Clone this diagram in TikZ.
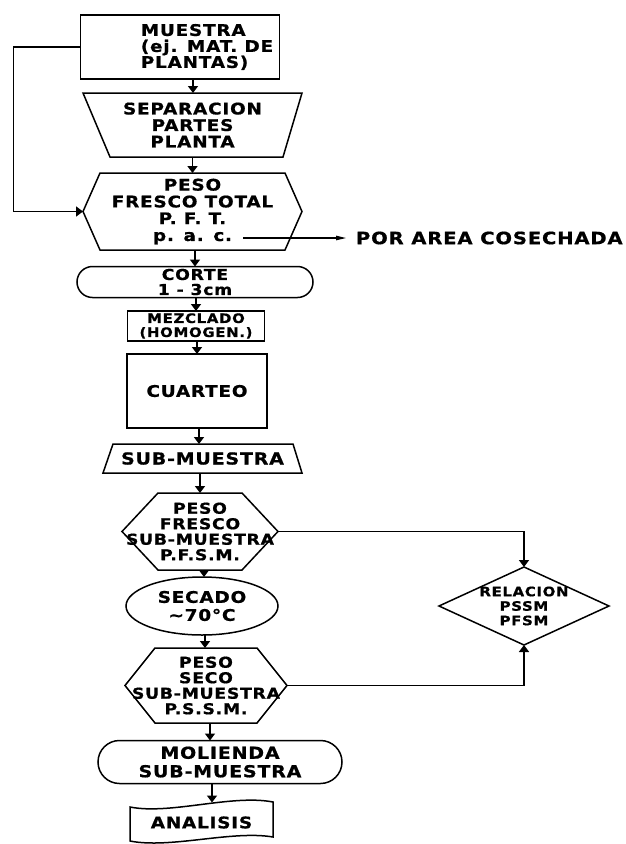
\documentclass[tikz,border=0pt]{standalone}
\usepackage{fontspec}
\setmainfont{DejaVu Sans}[LetterSpace=5,FakeStretch=1.15,BoldFeatures={FakeBold=0.8}]
\usetikzlibrary{arrows.meta,shapes.geometric}
\newcommand\myfs[2]{\fontsize{#1}{#2}\selectfont}
\begin{document}
\begin{tikzpicture}[x=1pt,y=-1pt,
  lw/.style={line width=1.5pt},
  blk/.style={inner sep=0pt, outer sep=0pt, align=center},
  fz/.style 2 args={font=\bfseries\myfs{#1}{#2}},
  arr/.style={lw,-{Triangle[length=7pt,width=10pt]}},
  thinarr/.style={line width=1.1pt,-{Triangle[length=10pt,width=4.5pt]}}]
\useasboundingbox (0,0) rectangle (626,844);
\fill[white] (0,0) rectangle (626,844);

% MUESTRA (text left-aligned, box drawn 27pt to the left of the node)
\node[blk,fz={16}{16},align=left,minimum width=199pt,minimum height=64pt] (muestra) at (207,47)
  {MUESTRA\\(ej. MAT. DE\\PLANTAS)};
\draw[lw] ([xshift=-27pt]muestra.north west) rectangle ([xshift=-27pt]muestra.south east);

% SEPARACION
\node[blk,fz={16}{16.5},minimum width=219pt,minimum height=64pt] (sep) at (192.5,125)
  {SEPARACION\\PARTES\\PLANTA};
\draw[lw] (sep.north west) -- (sep.north east) -- ([xshift=-19pt]sep.south east)
  -- ([xshift=27pt]sep.south west) -- cycle;

% PESO FRESCO TOTAL
\node[blk,fz={16}{16.8},minimum width=219pt,minimum height=77pt] (pft) at (192.5,211.5)
  {PESO\\FRESCO TOTAL\\P. F. T.\\p. a. c.};
\draw[lw] (pft.west) -- ([xshift=17pt]pft.north west) -- ([xshift=-17pt]pft.north east)
  -- (pft.east) -- ([xshift=-17pt]pft.south east) -- ([xshift=17pt]pft.south west) -- cycle;

\coordinate (pacs) at (243,238);
\node[blk,fz={17}{17},anchor=west] (pac) at (356,238) {POR AREA COSECHADA};
\draw[thinarr,shorten >=10pt] (pacs) -- (pac.west);

% CORTE
\node[blk,fz={15}{15},minimum width=236pt,minimum height=31pt] (corte) at (195,282)
  {CORTE\\1 - 3cm};
\draw[lw,rounded corners=15.5pt] (corte.north west) rectangle (corte.south east);

% MEZCLADO
\node[blk,fz={13}{14},minimum width=137pt,minimum height=30pt] (mez) at (196,326)
  {MEZCLADO\\(HOMOGEN.)};
\draw[lw] (mez.north west) rectangle (mez.south east);

% CUARTEO
\node[blk,fz={16}{16},minimum width=140pt,minimum height=74pt] (cuart) at (197,391)
  {CUARTEO};
\draw[lw] (cuart.north west) rectangle (cuart.south east);

% SUB-MUESTRA
\node[blk,fz={16.5}{16.5},minimum width=199pt,minimum height=29pt] (sub) at (202.5,458.5)
  {SUB-MUESTRA};
\draw[lw] ([xshift=10pt]sub.north west) -- ([xshift=-9pt]sub.north east)
  -- (sub.south east) -- (sub.south west) -- cycle;

% PESO FRESCO SUB-MUESTRA
\node[blk,fz={15}{15.5},minimum width=156pt,minimum height=77pt] (pfsm) at (200,531.5)
  {PESO\\FRESCO\\SUB-MUESTRA\\P.F.S.M.};
\draw[lw] (pfsm.west) -- ([xshift=36pt]pfsm.north west) -- ([xshift=-36pt]pfsm.north east)
  -- (pfsm.east) -- ([xshift=-36pt]pfsm.south east) -- ([xshift=36pt]pfsm.south west) -- cycle;

% SECADO
\node[blk,fz={16}{18},draw,lw,ellipse,minimum width=152pt,minimum height=58pt] (sec) at (202,606)
  {SECADO\\\textasciitilde70°C};

% PESO SECO SUB-MUESTRA
\node[blk,fz={15}{15.5},minimum width=162pt,minimum height=75pt] (pssm) at (206,685.5)
  {PESO\\SECO\\SUB-MUESTRA\\P.S.S.M.};
\draw[lw] (pssm.west) -- ([xshift=30pt]pssm.north west) -- ([xshift=-30pt]pssm.north east)
  -- (pssm.east) -- ([xshift=-30pt]pssm.south east) -- ([xshift=30pt]pssm.south west) -- cycle;

% RELACION
\node[blk,fz={13}{14.5},minimum width=170pt,minimum height=78pt] (rel) at (524,606)
  {RELACION\\PSSM\\PFSM};
\draw[lw] (rel.west) -- (rel.north) -- (rel.east) -- (rel.south) -- cycle;

% MOLIENDA
\node[blk,fz={16.5}{18.5},minimum width=244pt,minimum height=43pt] (mol) at (220,762)
  {MOLIENDA\\SUB-MUESTRA};
\draw[lw,rounded corners=21.5pt] (mol.north west) rectangle (mol.south east);

% ANALISIS
\node[blk,fz={16}{16},minimum width=143pt,minimum height=40pt] (ana) at (201.5,822.5)
  {ANALISIS};
\draw[lw] (130,807) .. controls (170,815) and (232,794) .. (273,802) -- (273,837)
  .. controls (232,830) and (170,849) .. (130,841) -- cycle;

% connectors
\draw[arr] ([xshift=-14pt]muestra.south) -- ([xshift=-14pt]muestra.south |- sep.north);
\draw[arr] (sep.south) -- (pft.north);
\draw[arr] ([xshift=-27pt]muestra.west) -- ++(-67,0) |- (pft.west);
\draw[arr] (corte.north |- pft.south) -- (corte.north);
\draw[arr] (mez.north |- corte.south) -- (mez.north);
\draw[arr] (cuart.north |- mez.south) -- (cuart.north);
\draw[arr] ([xshift=2pt]cuart.south) -- ([xshift=2pt]cuart.south |- sub.north);
\draw[arr] (pfsm.north |- sub.south) -- (pfsm.north);
\draw[arr] ([xshift=4pt]pfsm.south) -- ([xshift=4pt]pfsm.south |- sec.north);
\draw[arr] ([xshift=-1pt]pssm.north |- sec.south) -- ([xshift=-1pt]pssm.north);
\draw[arr] (pfsm.east) -| (rel.north);
\draw[arr] (pssm.east) -| (rel.south);
\draw[arr] ([xshift=4pt]pssm.south) -- ([xshift=4pt]pssm.south |- mol.north);
\draw[arr] ([xshift=-8pt]mol.south) -- ([xshift=-8pt]mol.south |- ana.north);
\end{tikzpicture}
\end{document}
